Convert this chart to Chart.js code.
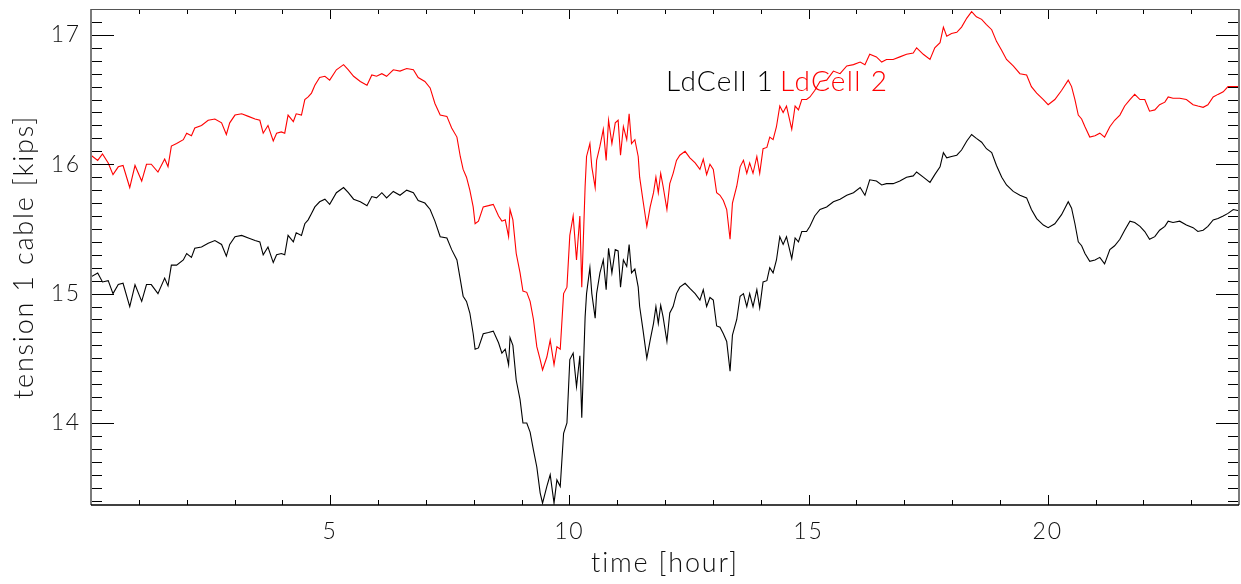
<!DOCTYPE html>
<html>
<head>
<meta charset="utf-8">
<title>tension 1 cable</title>
<script src="https://cdn.jsdelivr.net/npm/chart.js@4.4.1/dist/chart.umd.min.js"></script>
<style>
  html, body { margin: 0; padding: 0; background: #fff; }
  #myChart { display: block; }
</style>
</head>
<body>
<canvas id="myChart" width="1241" height="584"></canvas>
<script>
// time axis, hours (readings shared by both load cells)
const hours = [
    0, 0.14, 0.24, 0.36, 0.46, 0.57, 0.67, 0.81, 0.92, 1.06,
    1.16, 1.26, 1.40, 1.54, 1.61, 1.68, 1.79, 1.93, 2.0, 2.1,
    2.17, 2.31, 2.45, 2.59, 2.73, 2.83, 2.90, 3.01, 3.15, 3.29,
    3.43, 3.53, 3.60, 3.70, 3.81, 3.88, 3.98, 4.05, 4.12, 4.23,
    4.29, 4.40, 4.47, 4.54, 4.61, 4.68, 4.78, 4.89, 4.99, 5.13,
    5.28, 5.38, 5.49, 5.63, 5.77, 5.87, 5.97, 6.08, 6.18, 6.32,
    6.46, 6.60, 6.74, 6.84, 6.98, 7.09, 7.19, 7.30, 7.44, 7.54,
    7.65, 7.72, 7.78, 7.85, 7.92, 7.99, 8.03, 8.10, 8.20, 8.31,
    8.41, 8.52, 8.59, 8.66, 8.73, 8.76, 8.82, 8.89, 8.97, 9.03,
    9.11, 9.18, 9.25, 9.32, 9.39, 9.44, 9.53, 9.60, 9.68, 9.74,
    9.81, 9.88, 9.95,
    10.01, 10.08, 10.15, 10.22, 10.26, 10.33, 10.36, 10.43, 10.47, 10.54,
    10.57, 10.64, 10.71, 10.77, 10.82, 10.89, 10.96, 11.02, 11.07, 11.13,
    11.2, 11.25, 11.30, 11.37, 11.44, 11.47, 11.54, 11.62, 11.69, 11.76,
    11.81, 11.86, 11.91, 11.96, 12.04, 12.10, 12.17, 12.24, 12.31, 12.42,
    12.52, 12.63, 12.73, 12.80, 12.87, 12.94, 13.01, 13.08, 13.15, 13.22,
    13.29, 13.36, 13.41, 13.50, 13.57, 13.64, 13.71, 13.77, 13.84, 13.92,
    13.98, 14.05, 14.13, 14.19, 14.26, 14.33, 14.40, 14.47, 14.54, 14.65,
    14.72, 14.79, 14.86, 14.96,
    15.03, 15.13, 15.24, 15.38, 15.52, 15.66, 15.80, 15.94, 16.08, 16.18,
    16.28, 16.42, 16.53, 16.63, 16.77, 16.91, 17.05, 17.19, 17.26, 17.40,
    17.54, 17.64, 17.75, 17.82, 17.89, 17.99, 18.10, 18.20, 18.31, 18.41,
    18.51, 18.62, 18.72, 18.83, 18.93, 19.04, 19.14, 19.28, 19.42, 19.56,
    19.66, 19.77, 19.91, 20.01, 20.15, 20.29, 20.43, 20.50, 20.57, 20.64,
    20.71, 20.78, 20.88, 20.99, 21.09, 21.19, 21.30, 21.40, 21.51, 21.61,
    21.72, 21.82, 21.93, 22.03, 22.13, 22.24, 22.34, 22.45, 22.52, 22.62,
    22.76, 22.90, 23.04, 23.14, 23.25, 23.35, 23.46, 23.56, 23.67, 23.77,
    23.88, 24.0
];

// LdCell 1 (black), kips
const ldCell1 = [
    15.13, 15.16, 15.09, 15.10, 15.00, 15.07, 15.08, 14.90, 15.07, 14.94,
    15.07, 15.07, 15.00, 15.12, 15.06, 15.22, 15.22, 15.26, 15.31, 15.28,
    15.35, 15.36, 15.39, 15.41, 15.38, 15.29, 15.38, 15.44, 15.45, 15.43,
    15.41, 15.40, 15.30, 15.36, 15.24, 15.30, 15.31, 15.30, 15.45, 15.40,
    15.47, 15.45, 15.54, 15.57, 15.62, 15.67, 15.71, 15.73, 15.69, 15.78,
    15.82, 15.78, 15.73, 15.71, 15.68, 15.75, 15.74, 15.78, 15.74, 15.79,
    15.76, 15.80, 15.78, 15.72, 15.70, 15.65, 15.56, 15.44, 15.43, 15.34,
    15.26, 15.11, 14.98, 14.94, 14.85, 14.69, 14.57, 14.58, 14.69, 14.70,
    14.71, 14.62, 14.54, 14.57, 14.45, 14.66, 14.60, 14.33, 14.18, 14.00,
    14.00, 13.93, 13.79, 13.66, 13.46, 13.38, 13.51, 13.60, 13.38, 13.56,
    13.51, 13.92, 14.00,
    14.49, 14.54, 14.28, 14.52, 14.04, 14.82, 15.00, 15.20, 15.00, 14.81,
    15.00, 15.16, 15.26, 15.03, 15.35, 15.16, 15.34, 15.33, 15.05, 15.26,
    15.21, 15.38, 15.16, 15.19, 15.05, 14.90, 14.72, 14.50, 14.64, 14.77,
    14.90, 14.77, 14.91, 14.82, 14.63, 14.85, 14.90, 15.00, 15.05, 15.08,
    15.04, 15.00, 14.95, 15.03, 14.90, 14.97, 14.95, 14.75, 14.74, 14.69,
    14.63, 14.40, 14.68, 14.80, 14.98, 15.00, 14.90, 15.00, 14.90, 15.03,
    14.89, 15.09, 15.10, 15.20, 15.16, 15.26, 15.44, 15.38, 15.44, 15.27,
    15.43, 15.40, 15.48, 15.48,
    15.52, 15.60, 15.65, 15.67, 15.71, 15.73, 15.76, 15.78, 15.82, 15.76,
    15.88, 15.87, 15.84, 15.85, 15.85, 15.87, 15.90, 15.91, 15.94, 15.90,
    15.86, 15.92, 15.98, 16.09, 16.05, 16.06, 16.07, 16.11, 16.18, 16.23,
    16.20, 16.17, 16.12, 16.09, 15.99, 15.90, 15.84, 15.79, 15.76, 15.74,
    15.65, 15.58, 15.53, 15.51, 15.54, 15.61, 15.71, 15.66, 15.54, 15.40,
    15.37, 15.31, 15.25, 15.26, 15.28, 15.23, 15.34, 15.37, 15.42, 15.49,
    15.56, 15.55, 15.52, 15.48, 15.42, 15.44, 15.49, 15.52, 15.56, 15.55,
    15.56, 15.53, 15.51, 15.48, 15.49, 15.52, 15.57, 15.58, 15.60, 15.62,
    15.65, 15.64
];

// LdCell 2 (red), kips
const ldCell2 = [
    16.07, 16.03, 16.08, 16.01, 15.92, 15.98, 15.99, 15.82, 15.99, 15.87,
    16.00, 16.00, 15.94, 16.04, 15.98, 16.14, 16.16, 16.19, 16.24, 16.22,
    16.28, 16.30, 16.34, 16.35, 16.32, 16.23, 16.32, 16.38, 16.39, 16.37,
    16.35, 16.34, 16.24, 16.30, 16.18, 16.24, 16.25, 16.24, 16.38, 16.33,
    16.39, 16.38, 16.50, 16.52, 16.55, 16.61, 16.67, 16.68, 16.65, 16.73,
    16.77, 16.73, 16.68, 16.64, 16.61, 16.69, 16.68, 16.70, 16.68, 16.73,
    16.72, 16.74, 16.73, 16.67, 16.64, 16.59, 16.47, 16.38, 16.37, 16.28,
    16.21, 16.06, 15.96, 15.90, 15.80, 15.67, 15.54, 15.56, 15.67, 15.68,
    15.69, 15.60, 15.56, 15.57, 15.44, 15.65, 15.57, 15.31, 15.16, 15.02,
    15.01, 14.94, 14.80, 14.59, 14.49, 14.41, 14.51, 14.64, 14.45, 14.59,
    14.57, 15.00, 15.05,
    15.45, 15.60, 15.26, 15.60, 15.05, 15.83, 16.06, 16.16, 15.98, 15.82,
    16.03, 16.14, 16.27, 16.03, 16.34, 16.16, 16.32, 16.34, 16.07, 16.29,
    16.19, 16.39, 16.16, 16.19, 16.06, 15.90, 15.72, 15.52, 15.67, 15.78,
    15.90, 15.78, 15.93, 15.83, 15.65, 15.85, 15.93, 16.03, 16.07, 16.10,
    16.05, 16.01, 15.96, 16.04, 15.92, 16.00, 15.96, 15.78, 15.76, 15.72,
    15.65, 15.42, 15.70, 15.83, 15.98, 16.03, 15.93, 16.01, 15.93, 16.06,
    15.93, 16.12, 16.13, 16.21, 16.19, 16.29, 16.45, 16.40, 16.45, 16.27,
    16.45, 16.42, 16.50, 16.50,
    16.52, 16.57, 16.64, 16.65, 16.72, 16.70, 16.76, 16.77, 16.79, 16.77,
    16.85, 16.83, 16.79, 16.81, 16.81, 16.83, 16.85, 16.86, 16.90, 16.85,
    16.81, 16.90, 16.94, 17.06, 16.99, 17.01, 17.02, 17.06, 17.13, 17.18,
    17.14, 17.12, 17.08, 17.04, 16.95, 16.88, 16.81, 16.76, 16.70, 16.69,
    16.60, 16.55, 16.50, 16.46, 16.50, 16.57, 16.65, 16.60, 16.50, 16.38,
    16.35, 16.29, 16.21, 16.22, 16.24, 16.21, 16.29, 16.34, 16.38, 16.45,
    16.50, 16.54, 16.50, 16.50, 16.41, 16.42, 16.46, 16.48, 16.52, 16.51,
    16.51, 16.50, 16.46, 16.45, 16.44, 16.46, 16.52, 16.54, 16.56, 16.60,
    16.60, 16.60
];

const seriesNames = ["LdCell 1", "LdCell 2"];
const seriesColors = ["#000000", "#ff0000"];

const xTickLabels = [5, 10, 15, 20];
const yTickLabels = [14, 15, 16, 17];
const xRange = [0, 24];
const yRange = [13.366, 17.2];

const fontFamily = "Lato, 'Liberation Sans', sans-serif";

// IDL style box: inward major + minor ticks on all four sides
const idlFrame = {
    id: "idlFrame",
    beforeUpdate(chart) {
        // IDL vector fonts are loosely spaced
        chart.ctx.letterSpacing = "1.8px";
    },
    afterDatasetsDraw(chart) {
        const { ctx, chartArea: a, scales: { x, y } } = chart;
        ctx.save();
        ctx.strokeStyle = "#000";
        ctx.lineWidth = 1;
        ctx.beginPath();
        for (let h = xRange[0] + 1; h < xRange[1]; h++) {
            const px = Math.round(x.getPixelForValue(h)) + 0.5;
            const len = xTickLabels.includes(h) ? 10 : 5;
            ctx.moveTo(px, a.bottom);
            ctx.lineTo(px, a.bottom - len);
            ctx.moveTo(px, a.top);
            ctx.lineTo(px, a.top + len);
        }
        for (let k = 134; k <= 171; k++) {
            const py = Math.round(y.getPixelForValue(k / 10)) + 0.5;
            const len = k % 10 === 0 ? 23 : 11;
            ctx.moveTo(a.left, py);
            ctx.lineTo(a.left + len, py);
            ctx.moveTo(a.right, py);
            ctx.lineTo(a.right - len, py);
        }
        ctx.stroke();

        // frame
        ctx.lineWidth = 2;
        ctx.strokeStyle = "#7a7a7a";
        ctx.beginPath();
        ctx.moveTo(a.left, a.bottom);
        ctx.lineTo(a.left, a.top);
        ctx.moveTo(a.right, a.top);
        ctx.lineTo(a.right, a.bottom);
        ctx.stroke();
        ctx.lineWidth = 1;
        ctx.strokeStyle = "#555";
        ctx.beginPath();
        ctx.moveTo(a.left, a.top + 0.5);
        ctx.lineTo(a.right, a.top + 0.5);
        ctx.stroke();
        ctx.lineWidth = 1.5;
        ctx.strokeStyle = "#000";
        ctx.beginPath();
        ctx.moveTo(a.left, a.bottom);
        ctx.lineTo(a.right, a.bottom);
        ctx.stroke();

        // legend text inside the plot
        ctx.font = "300 28px " + fontFamily;
        ctx.letterSpacing = "1.3px";
        ctx.textBaseline = "alphabetic";
        ctx.textAlign = "left";
        let tx = a.left + 575;
        const ty = a.top + 82;
        seriesNames.forEach((name, i) => {
            ctx.fillStyle = seriesColors[i];
            ctx.fillText(name, tx, ty);
            tx += ctx.measureText(name).width + 6;
        });
        ctx.restore();
    }
};

const datasets = [ldCell1, ldCell2].map((values, i) => ({
    label: seriesNames[i],
    data: hours.map((h, j) => ({ x: h, y: values[j] })),
    borderColor: seriesColors[i],
    borderWidth: 1.1,
    pointRadius: 0,
    tension: 0,
    fill: false
}));

const config = {
    type: "line",
    data: { datasets: datasets },
    options: {
        responsive: false,
        animation: false,
        layout: { padding: { top: 9, right: 2, left: 0, bottom: 0 } },
        plugins: {
            legend: { display: false },
            tooltip: { enabled: false }
        },
        scales: {
            x: {
                type: "linear",
                min: xRange[0],
                max: xRange[1],
                afterBuildTicks: scale => { scale.ticks = xTickLabels.map(v => ({ value: v })); },
                afterFit: scale => {
                    scale.height = 79;
                    scale.paddingLeft = 0;
                    scale.paddingRight = 0;
                },
                grid: { display: false, drawTicks: false },
                border: { display: false },
                ticks: { color: "#111", padding: 13, font: { family: fontFamily, size: 23, weight: "300" } },
                title: {
                    display: true,
                    text: "time [hour]",
                    color: "#111",
                    padding: { top: 0, bottom: 5 },
                    font: { family: fontFamily, size: 27, weight: "300" }
                }
            },
            y: {
                type: "linear",
                min: yRange[0],
                max: yRange[1],
                afterBuildTicks: scale => { scale.ticks = yTickLabels.map(v => ({ value: v })); },
                afterFit: scale => {
                    scale.width = 91;
                    scale.paddingTop = 0;
                    scale.paddingBottom = 0;
                },
                grid: { display: false, drawTicks: false },
                border: { display: false },
                ticks: { color: "#111", padding: 10, font: { family: fontFamily, size: 23, weight: "300" } },
                title: {
                    display: true,
                    text: "tension 1 cable [kips]",
                    color: "#111",
                    padding: { top: 8, bottom: 0 },
                    font: { family: fontFamily, size: 27, weight: "300" }
                }
            }
        }
    },
    plugins: [idlFrame]
};

new Chart(document.getElementById("myChart"), config);
</script>
</body>
</html>
